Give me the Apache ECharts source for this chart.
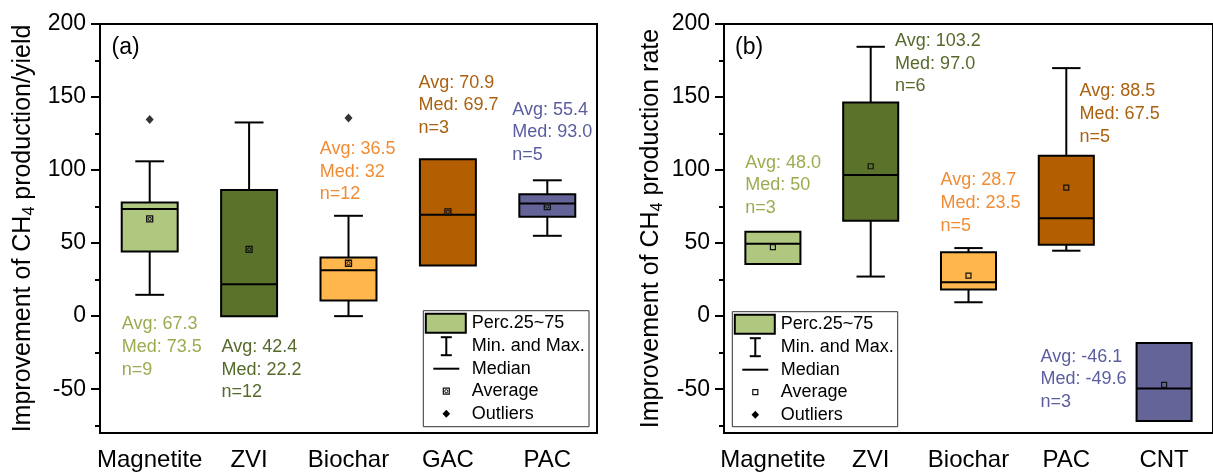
<!DOCTYPE html>
<html><head><meta charset="utf-8">
<script src="https://cdn.jsdelivr.net/npm/echarts@6/dist/echarts.min.js"></script>
<style>html,body{margin:0;padding:0;background:#fff}#c{width:1213px;height:472px}</style>
</head><body><div id="c"></div>
<script>
// ---------- data: panel (a) ----------
const categoriesA = ['Magnetite', 'ZVI', 'Biochar', 'GAC', 'PAC'];
const minA    = [14.6, 0, 0, 34.6, 55];
const q1A     = [44.3, 0, 10.7, 34.6, 68];
const medianA = [73.3, 21.8, 31.4, 69.4, 77.1];
const q3A     = [77.8, 86.4, 40.2, 107.4, 83.5];
const maxA    = [106, 132.6, 68.7, 107.4, 93];
const meanA   = [66.6, 45.7, 36.2, 71.4, 75];
const outlierCatA = [0, 2];
const outlierValA = [134.6, 135.7];
const avgTextA = ['67.3', '42.4', '36.5', '70.9', '55.4'];
const medTextA = ['73.5', '22.2', '32', '69.7', '93.0'];
const nA       = [9, 12, 12, 3, 5];

// ---------- data: panel (b) ----------
const categoriesB = ['Magnetite', 'ZVI', 'Biochar', 'PAC', 'CNT'];
const minB    = [35.7, 27.1, 9.5, 44.8, -71.8];
const q1B     = [35.7, 65.3, 18.2, 48.9, -71.8];
const medianB = [49.6, 96.6, 23.2, 67.1, -49.5];
const q3B     = [57.8, 146.2, 43.7, 109.8, -18.4];
const maxB    = [57.8, 184.4, 46.6, 169.8, -18.4];
const meanB   = [47.3, 102.6, 27.8, 88.0, -47.0];
const avgTextB = ['48.0', '103.2', '28.7', '88.5', '-46.1'];
const medTextB = ['50', '97.0', '23.5', '67.5', '-49.6'];
const nB       = [3, 6, 5, 5, 3];

// ---------- axis ticks ----------
const yMajorTicks = [-50, 0, 50, 100, 150, 200];
const yMinorTicks = [-75, -25, 25, 75, 125, 175];
const legendLabels = ['Perc.25~75', 'Min. and Max.', 'Median', 'Average', 'Outliers'];

// ---------- styles / layout ----------
const FONT = "'Liberation Sans', Arial, Helvetica, sans-serif";
const fillsA = ['#b0c77f', '#5a7229', '#ffb74d', '#b35e00', '#646498'];
const fillsB = ['#b0c77f', '#5a7229', '#ffb74d', '#b35e00', '#646498'];
const textColA = ['#9dab50', '#55692a', '#f28c34', '#a9610f', '#5a5e9f'];
const textColB = ['#9dab50', '#55692a', '#f28c34', '#a9610f', '#5a5e9f'];
// annotation layout: [pixel x-offset from category centre, y (axis units) of first line centre]
const noteLayoutA = [[-28, -5.7], [-27.6, -21.1], [-28.7, 114.3], [-29.4, 159.9], [-35, 141.3]];
const noteLayoutB = [[-27.6, 105.0], [24.4, 188.3], [-28, 92.9], [13.3, 153.8], [-123.6, -27.8]];

const gridA = {left: 100, top: 24, width: 497, height: 410};
const gridB = {left: 724, top: 24, width: 496, height: 410};

function boxRenderer(fills, avgKind) {
  return function (params, api) {
    const i = api.value(0);
    const vMin = api.value(1), q1 = api.value(2), med = api.value(3),
          q3 = api.value(4), vMax = api.value(5), mean = api.value(6);
    const band = api.size([1, 0])[0];
    const bw = band * 0.563, cw = band * 0.29;
    const P = v => api.coord([i, v]);
    const cx = P(med)[0];
    const yMin = P(vMin)[1], yQ1 = P(q1)[1], yMed = P(med)[1],
          yQ3 = P(q3)[1], yMax = P(vMax)[1], yMean = P(mean)[1];
    const ls = {stroke: '#000', lineWidth: 2};
    const ch = [];
    if (vMax > q3) {
      ch.push({type: 'line', shape: {x1: cx, y1: yQ3, x2: cx, y2: yMax}, style: ls});
      ch.push({type: 'line', shape: {x1: cx - cw / 2, y1: yMax, x2: cx + cw / 2, y2: yMax}, style: ls});
    }
    if (vMin < q1) {
      ch.push({type: 'line', shape: {x1: cx, y1: yQ1, x2: cx, y2: yMin}, style: ls});
      ch.push({type: 'line', shape: {x1: cx - cw / 2, y1: yMin, x2: cx + cw / 2, y2: yMin}, style: ls});
    }
    ch.push({type: 'rect', shape: {x: cx - bw / 2, y: yQ3, width: bw, height: yQ1 - yQ3},
             style: {fill: fills[params.dataIndex], stroke: '#000', lineWidth: 2}});
    ch.push({type: 'line', shape: {x1: cx - bw / 2, y1: yMed, x2: cx + bw / 2, y2: yMed}, style: ls});
    if (avgKind === 'a') {
      ch.push({type: 'rect', shape: {x: cx - 3, y: yMean - 3, width: 6, height: 6},
               style: {fill: 'none', stroke: '#111', lineWidth: 1.3}});
      ch.push({type: 'circle', shape: {cx: cx, cy: yMean, r: 1.6},
               style: {fill: 'none', stroke: '#111', lineWidth: 1}});
    } else {
      ch.push({type: 'rect', shape: {x: cx - 2.5, y: yMean - 2.5, width: 5, height: 5},
               style: {fill: 'none', stroke: '#111', lineWidth: 1.2}});
    }
    return {type: 'group', children: ch};
  };
}

function noteRenderer(layout, colors, avgT, medT, nn) {
  return function (params, api) {
    const k = params.dataIndex;
    const p = api.coord([api.value(0), layout[k][1]]);
    return {
      type: 'text', x: p[0] + layout[k][0], y: p[1] - 11.3,
      style: {
        text: 'Avg: ' + avgT[k] + '\nMed: ' + medT[k] + '\nn=' + nn[k],
        fill: colors[k], fontSize: 18, fontFamily: FONT, lineHeight: 22.6,
        align: 'left', verticalAlign: 'top'
      }
    };
  };
}

function legend(left, top, w, h, avgKind) {
  const rows = [12, 35.5, 58, 80.5, 103];
  const sx = left + 23, tx = left + 48.5;
  const els = [];
  els.push({type: 'rect', z: 10, shape: {x: left, y: top, width: w, height: h},
            style: {fill: '#fff', stroke: '#333', lineWidth: 1}});
  els.push({type: 'rect', z: 11, shape: {x: left + 2.5, y: top + 3, width: 40, height: 19},
            style: {fill: fillsA[0], stroke: '#000', lineWidth: 2}});
  const ls = {stroke: '#000', lineWidth: 2};
  const r1 = top + rows[1];
  els.push({type: 'line', z: 11, shape: {x1: sx, y1: r1 - 9, x2: sx, y2: r1 + 9}, style: ls});
  els.push({type: 'line', z: 11, shape: {x1: sx - 5.5, y1: r1 - 9, x2: sx + 5.5, y2: r1 - 9}, style: ls});
  els.push({type: 'line', z: 11, shape: {x1: sx - 5.5, y1: r1 + 9, x2: sx + 5.5, y2: r1 + 9}, style: ls});
  const r2 = top + rows[2];
  els.push({type: 'line', z: 11, shape: {x1: sx - 13, y1: r2, x2: sx + 13, y2: r2}, style: ls});
  const r3 = top + rows[3];
  if (avgKind === 'a') {
    els.push({type: 'rect', z: 11, shape: {x: sx - 3, y: r3 - 3, width: 6, height: 6},
              style: {fill: 'none', stroke: '#111', lineWidth: 1.2}});
    els.push({type: 'circle', z: 11, shape: {cx: sx, cy: r3, r: 1.6},
              style: {fill: 'none', stroke: '#111', lineWidth: 1}});
  } else {
    els.push({type: 'rect', z: 11, shape: {x: sx - 2.5, y: r3 - 2.5, width: 5, height: 5},
              style: {fill: 'none', stroke: '#111', lineWidth: 1.2}});
  }
  const r4 = top + rows[4];
  els.push({type: 'polygon', z: 11, shape: {points: [[sx, r4 - 4], [sx + 3.8, r4], [sx, r4 + 4], [sx - 3.8, r4]]},
            style: {fill: '#000'}});
  legendLabels.forEach((t, k) => {
    els.push({type: 'text', z: 11, x: tx, y: top + rows[k],
              style: {text: t, fill: '#000', fontSize: 18, fontFamily: FONT, verticalAlign: 'middle', align: 'left'}});
  });
  return els;
}

function xAxisCfg(gi, cats) {
  return {
    type: 'category', gridIndex: gi, data: cats, boundaryGap: true, position: 'bottom',
    axisLine: {onZero: false, lineStyle: {color: '#000', width: 2}},
    axisTick: {alignWithLabel: true, length: 9, inside: false, lineStyle: {color: '#000', width: 2}},
    axisLabel: {interval: 0, fontSize: 24, fontFamily: FONT, color: '#000', margin: 15},
    splitLine: {show: false}
  };
}
function yAxisCfg(gi, name, gap) {
  return {
    type: 'value', gridIndex: gi, min: -80, max: 200, position: 'left',
    name: name, nameLocation: 'middle', nameGap: gap, nameRotate: 90,
    nameTextStyle: {fontFamily: FONT, color: '#000',
      rich: {n: {fontSize: 25, fontFamily: FONT, color: '#000', lineHeight: 30},
             s: {fontSize: 16, fontFamily: FONT, color: '#000', lineHeight: 12, verticalAlign: 'bottom'}}},
    axisLine: {show: true, onZero: false, lineStyle: {color: '#000', width: 2}},
    axisTick: {show: true, length: 9, inside: false, customValues: yMajorTicks, lineStyle: {color: '#000', width: 2}},
    axisLabel: {fontSize: 23, fontFamily: FONT, color: '#000', margin: 14, customValues: yMajorTicks},
    splitLine: {show: false}
  };
}
function yMinorCfg(gi) {
  return {
    type: 'value', gridIndex: gi, min: -80, max: 200, position: 'left', offset: 0,
    axisLine: {show: false, onZero: false},
    axisTick: {show: true, length: 5, inside: false, customValues: yMinorTicks, lineStyle: {color: '#000', width: 2}},
    axisLabel: {show: false},
    splitLine: {show: false}
  };
}

const boxDataA = categoriesA.map((c, i) => [i, minA[i], q1A[i], medianA[i], q3A[i], maxA[i], meanA[i]]);
const boxDataB = categoriesB.map((c, i) => [i, minB[i], q1B[i], medianB[i], q3B[i], maxB[i], meanB[i]]);
const outDataA = outlierCatA.map((c, k) => [c, outlierValA[k]]);

const chart = echarts.init(document.getElementById('c'), null, {renderer: 'canvas'});
chart.setOption({
  animation: false,
  backgroundColor: '#fff',
  grid: [
    Object.assign({show: true, borderColor: '#000', borderWidth: 2, backgroundColor: 'transparent'}, gridA),
    Object.assign({show: true, borderColor: '#000', borderWidth: 2, backgroundColor: 'transparent'}, gridB)
  ],
  xAxis: [xAxisCfg(0, categoriesA), xAxisCfg(1, categoriesB)],
  yAxis: [
    yAxisCfg(0, '{n|Improvement of CH}{s|4}{n| production/yield}', 62),
    yAxisCfg(1, '{n|Improvement of CH}{s|4}{n| production rate}', 58),
    yMinorCfg(0), yMinorCfg(1)
  ],
  series: [
    {type: 'custom', xAxisIndex: 0, yAxisIndex: 0, data: boxDataA,
     encode: {x: 0, y: [1, 2, 3, 4, 5]}, renderItem: boxRenderer(fillsA, 'a'), clip: false, z: 3},
    {type: 'custom', xAxisIndex: 1, yAxisIndex: 1, data: boxDataB,
     encode: {x: 0, y: [1, 2, 3, 4, 5]}, renderItem: boxRenderer(fillsB, 'b'), clip: false, z: 3},
    {type: 'scatter', xAxisIndex: 0, yAxisIndex: 0, data: outDataA, symbol: 'diamond',
     symbolSize: [8, 9], itemStyle: {color: '#000'}, z: 4},
    {type: 'custom', xAxisIndex: 0, yAxisIndex: 0, data: categoriesA.map((c, i) => [i, medianA[i]]),
     encode: {x: 0, y: 1}, renderItem: noteRenderer(noteLayoutA, textColA, avgTextA, medTextA, nA), clip: false, z: 5},
    {type: 'custom', xAxisIndex: 1, yAxisIndex: 1, data: categoriesB.map((c, i) => [i, medianB[i]]),
     encode: {x: 0, y: 1}, renderItem: noteRenderer(noteLayoutB, textColB, avgTextB, medTextB, nB), clip: false, z: 5}
  ],
  graphic: [].concat(
    legend(423.3, 310.7, 165.7, 116, 'a'),
    legend(732.3, 311.7, 165.4, 115, 'b'),
    [
      {type: 'text', x: 111.5, y: 47.5, style: {text: '(a)', fill: '#000', fontSize: 23, fontFamily: FONT, verticalAlign: 'middle'}},
      {type: 'text', x: 735, y: 47.5, style: {text: '(b)', fill: '#000', fontSize: 23, fontFamily: FONT, verticalAlign: 'middle'}}
    ]
  )
});
</script>
</body></html>
